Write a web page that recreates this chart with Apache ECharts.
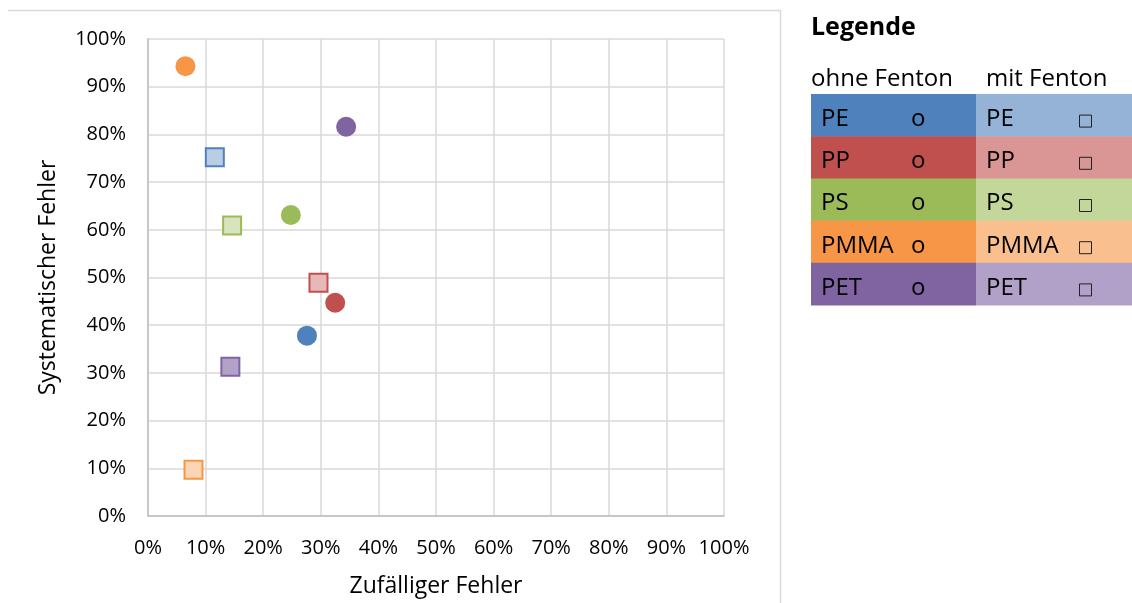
<!DOCTYPE html>
<html><head><meta charset="utf-8">
<script src="https://cdn.jsdelivr.net/npm/echarts@6/dist/echarts.min.js"></script>
<style>html,body{margin:0;padding:0;background:#fff;overflow:hidden;}#c{width:1132px;height:603px;}</style>
</head><body><div id="c"></div>
<script>
const materials = ['PE','PP','PS','PMMA','PET'];
// [zufälliger Fehler %, systematischer Fehler %]
const ohneFenton = [[27.6,37.8],[32.5,44.7],[24.8,63.1],[6.5,94.3],[34.4,81.6]];
const mitFenton  = [[11.6,75.2],[29.6,48.9],[14.6,60.9],[7.9,9.7],[14.3,31.3]];
const mainColors  = ['#4F81BD','#C0504D','#9BBB59','#F79646','#8064A2'];
const lightFill   = ['#B9CDE5','#E6B9B8','#D7E4BD','#FCD5B5','#B3A2C7'];
const tableLight  = ['#95B3D7','#DA9694','#C4D79B','#FABF8F','#B1A0C7'];
const xTitle = 'Zufälliger Fehler';
const yTitle = 'Systematischer Fehler';
const legendTitle = 'Legende';
const colHeaders = ['ohne Fenton','mit Fenton'];

const FONT = 'Open Sans';
const series = [];
materials.forEach((m,i)=>{
  series.push({name:m+' ohne', type:'scatter', symbol:'circle', symbolSize:20,
    itemStyle:{color:mainColors[i], opacity:1}, data:[ohneFenton[i]], z:3});
  series.push({name:m+' mit', type:'scatter', symbol:'rect', symbolSize:18,
    itemStyle:{color:lightFill[i], borderColor:mainColors[i], borderWidth:2, opacity:1}, data:[mitFenton[i]], z:3});
});

const graphic = [
  {type:'line', shape:{x1:8,y1:10.5,x2:780.5,y2:10.5}, style:{stroke:'#d9d9d9',lineWidth:1.5}},
  {type:'line', shape:{x1:780.5,y1:10,x2:780.5,y2:603}, style:{stroke:'#d9d9d9',lineWidth:1.5}},
  {type:'text', x:811, y:28, style:{text:legendTitle, font:'bold 25px "'+FONT+'"', fill:'#000', verticalAlign:'middle'}},
  {type:'text', x:811, y:79, style:{text:colHeaders[0], font:'24px "'+FONT+'"', fill:'#000', verticalAlign:'middle'}},
  {type:'text', x:986, y:79, style:{text:colHeaders[1], font:'24px "'+FONT+'"', fill:'#000', verticalAlign:'middle'}}
];
const rowTop = 94, rowH = 42.2;
materials.forEach((m,i)=>{
  const y = rowTop + i*rowH;
  graphic.push({type:'rect', shape:{x:811,y:y,width:165,height:rowH+0.5}, style:{fill:mainColors[i]}});
  graphic.push({type:'rect', shape:{x:976,y:y,width:160,height:rowH+0.5}, style:{fill:tableLight[i]}});
  graphic.push({type:'text', x:821, y:y+rowH/2+4, style:{text:m, font:'24px "'+FONT+'"', fill:'#000', verticalAlign:'middle'}});
  graphic.push({type:'text', x:911, y:y+rowH/2+4, style:{text:'o', font:'24px "'+FONT+'"', fill:'#000', verticalAlign:'middle'}});
  graphic.push({type:'text', x:986, y:y+rowH/2+4, style:{text:m, font:'24px "'+FONT+'"', fill:'#000', verticalAlign:'middle'}});
  graphic.push({type:'rect', shape:{x:1079.5,y:y+rowH/2,width:12,height:12}, style:{fill:'none', stroke:'#222', lineWidth:1}});
});

const chart = echarts.init(document.getElementById('c'));
chart.setOption({
  animation:false,
  backgroundColor:'#fff',
  textStyle:{fontFamily:FONT},
  grid:{left:148, width:576, top:39, height:481, containLabel:false},
  xAxis:{type:'value', min:0, max:100, interval:10,
    name:xTitle, nameLocation:'middle', nameGap:59,
    nameTextStyle:{fontSize:23, color:'#000', fontFamily:FONT},
    axisLine:{show:true, lineStyle:{color:'#bfbfbf', width:1.5}},
    axisTick:{show:false},
    axisLabel:{formatter:'{value}%', fontSize:20, color:'#000', margin:22, fontFamily:FONT},
    splitLine:{show:true, lineStyle:{color:'#d9d9d9', width:1.5}}},
  yAxis:{type:'value', min:0, max:100, interval:10,
    name:yTitle, nameLocation:'middle', nameGap:88,
    nameTextStyle:{fontSize:23, color:'#000', fontFamily:FONT},
    axisLine:{show:true, lineStyle:{color:'#bfbfbf', width:1.5}},
    axisTick:{show:false},
    axisLabel:{formatter:'{value}%', fontSize:20, color:'#000', margin:22, fontFamily:FONT},
    splitLine:{show:true, lineStyle:{color:'#d9d9d9', width:1.5}}},
  series:series,
  graphic:graphic
});
</script></body></html>
